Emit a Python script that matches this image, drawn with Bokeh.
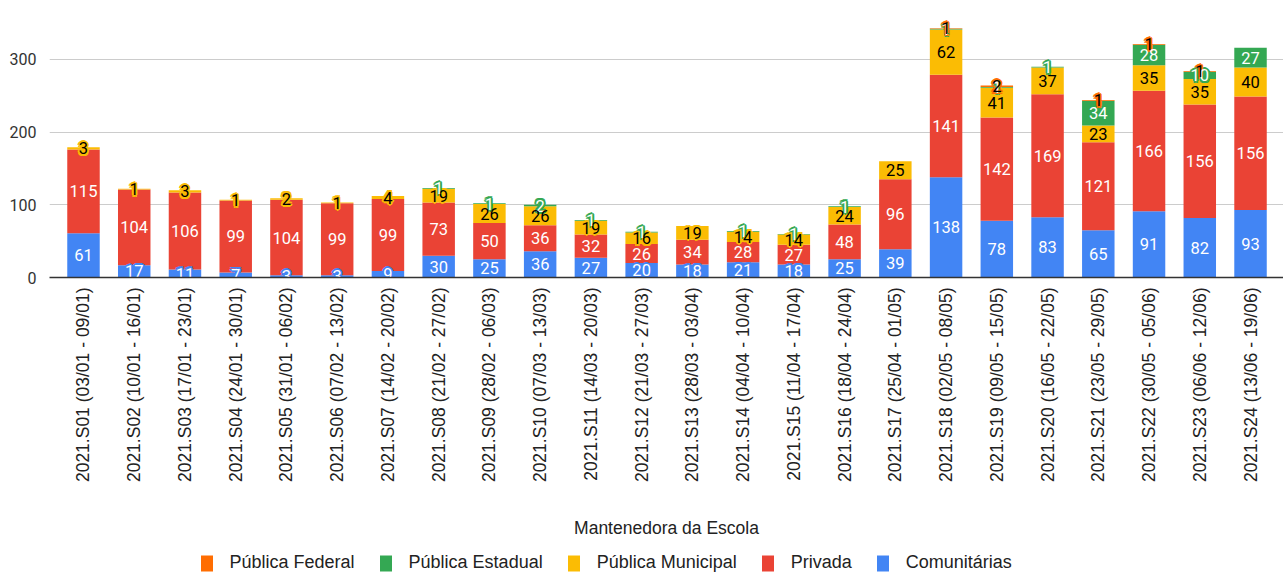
import math
from bokeh.plotting import figure
from bokeh.layouts import column
from bokeh.models import ColumnDataSource, FixedTicker, Range1d, Legend, LegendItem
from bokeh.core.properties import value
from bokeh.embed import file_html
from bokeh.resources import INLINE

weeks = [
    "2021.S01 (03/01 - 09/01)", "2021.S02 (10/01 - 16/01)", "2021.S03 (17/01 - 23/01)",
    "2021.S04 (24/01 - 30/01)", "2021.S05 (31/01 - 06/02)", "2021.S06 (07/02 - 13/02)",
    "2021.S07 (14/02 - 20/02)", "2021.S08 (21/02 - 27/02)", "2021.S09 (28/02 - 06/03)",
    "2021.S10 (07/03 - 13/03)", "2021.S11 (14/03 - 20/03)", "2021.S12 (21/03 - 27/03)",
    "2021.S13 (28/03 - 03/04)", "2021.S14 (04/04 - 10/04)", "2021.S15 (11/04 - 17/04)",
    "2021.S16 (18/04 - 24/04)", "2021.S17 (25/04 - 01/05)", "2021.S18 (02/05 - 08/05)",
    "2021.S19 (09/05 - 15/05)", "2021.S20 (16/05 - 22/05)", "2021.S21 (23/05 - 29/05)",
    "2021.S22 (30/05 - 05/06)", "2021.S23 (06/06 - 12/06)", "2021.S24 (13/06 - 19/06)",
]

comunitarias = [61, 17, 11, 7, 3, 3, 9, 30, 25, 36, 27, 20, 18, 21, 18, 25, 39, 138, 78, 83, 65, 91, 82, 93]
privada = [115, 104, 106, 99, 104, 99, 99, 73, 50, 36, 32, 26, 34, 28, 27, 48, 96, 141, 142, 169, 121, 166, 156, 156]
municipal = [3, 1, 3, 1, 2, 1, 4, 19, 26, 26, 19, 16, 19, 14, 14, 24, 25, 62, 41, 37, 23, 35, 35, 40]
estadual = [0, 0, 0, 0, 0, 0, 0, 1, 1, 2, 1, 1, 0, 1, 1, 1, 0, 1, 1, 1, 34, 28, 10, 27]
federal = [0, 0, 0, 0, 0, 0, 0, 0, 0, 0, 0, 0, 0, 0, 0, 0, 0, 1, 2, 0, 1, 1, 1, 0]

series_names = ["Comunitárias", "Privada", "Pública Municipal", "Pública Estadual", "Pública Federal"]
series_values = [comunitarias, privada, municipal, estadual, federal]
keys = ["com", "priv", "mun", "est", "fed"]
colors = ["#4285F4", "#EA4335", "#FBBC04", "#34A853", "#FF6D01"]
text_colors = ["#ffffff", "#ffffff", "#000000", "#ffffff", "#000000"]

xs = list(range(len(weeks)))
data = {"x": xs}
for k, v in zip(keys, series_values):
    data[k] = v
src = ColumnDataSource(data)

p = figure(
    frame_width=1234, frame_height=269,
    x_range=Range1d(-0.67, 23.65), y_range=Range1d(0, 370),
    output_backend="svg", toolbar_location=None,
    min_border_left=49, min_border_right=0, min_border_top=8, min_border_bottom=268,
    background_fill_color="white", border_fill_color="white",
)
p.outline_line_color = None

renderers = p.vbar_stack(keys, x="x", width=0.64, color=colors, source=src, line_color=None)

BAR_FONT = "Roboto"
normal = {"x": [], "y": [], "t": [], "c": []}
halo = {"x": [], "y": [], "t": [], "c": [], "h": []}
cum = [0] * len(weeks)
for si, vals in enumerate(series_values):
    for i, v in enumerate(vals):
        if v > 0:
            mid = cum[i] + v / 2.0
            if v < 22:
                halo["x"].append(i); halo["y"].append(mid); halo["t"].append(str(v))
                halo["c"].append(text_colors[si]); halo["h"].append(colors[si])
            else:
                normal["x"].append(i); normal["y"].append(mid); normal["t"].append(str(v))
                normal["c"].append(text_colors[si])
        cum[i] += v

hsrc = ColumnDataSource(halo)
for dx, dy in [(-2, 0), (2, 0), (0, -2), (0, 2), (-1.5, -1.5), (1.5, 1.5), (-1.5, 1.5), (1.5, -1.5)]:
    p.text(x="x", y="y", text="t", source=hsrc, x_offset=dx, y_offset=dy,
           text_color="h", text_font=value(BAR_FONT), text_font_size="16.5px",
           text_align="center", text_baseline="middle")
p.text(x="x", y="y", text="t", source=hsrc, text_color="c", text_font=value(BAR_FONT),
       text_font_size="16.5px", text_align="center", text_baseline="middle")
nsrc = ColumnDataSource(normal)
p.text(x="x", y="y", text="t", source=nsrc, text_color="c", text_font=value(BAR_FONT),
       text_font_size="16.5px", text_align="center", text_baseline="middle")

p.xgrid.grid_line_color = None
p.ygrid.ticker = FixedTicker(ticks=[100, 200, 300])
p.ygrid.grid_line_color = "#cccccc"
p.ygrid.grid_line_width = 1

p.yaxis.ticker = FixedTicker(ticks=[0, 100, 200, 300])
p.yaxis.axis_line_color = None
p.yaxis.major_tick_line_color = None
p.yaxis.minor_tick_line_color = None
p.yaxis.major_label_standoff = 7
p.yaxis.major_label_text_font = "Roboto"
p.yaxis.major_label_text_font_size = "16px"
p.yaxis.major_label_text_color = "#333333"

p.xaxis.ticker = FixedTicker(ticks=xs)
p.xaxis.major_label_overrides = {i: w for i, w in enumerate(weeks)}
p.xaxis.major_label_orientation = math.pi / 2
p.xaxis.major_label_standoff = 4
p.xaxis.major_tick_line_color = None
p.xaxis.minor_tick_line_color = None
p.xaxis.axis_line_color = "#333333"
p.xaxis.axis_line_width = 1.5
p.xaxis.major_label_text_font = "Liberation Sans"
p.xaxis.major_label_text_font_size = "17.5px"
p.xaxis.major_label_text_color = "#222222"
p.xaxis.axis_label = "Mantenedora da Escola"
p.xaxis.axis_label_text_font = "Liberation Sans"
p.xaxis.axis_label_text_font_size = "17.5px"
p.xaxis.axis_label_text_font_style = "normal"
p.xaxis.axis_label_text_color = "#222222"
p.xaxis.axis_label_standoff = 33

# legend strip below the chart (zero-height swatch bars feed the legend glyphs)
lf = figure(
    frame_width=1283, frame_height=30, x_range=Range1d(-100, -99), y_range=Range1d(0, 1),
    x_axis_type=None, y_axis_type=None, output_backend="svg", toolbar_location=None,
    min_border_left=0, min_border_right=0, min_border_top=0, min_border_bottom=0,
)
lf.outline_line_color = None
legend_renderers = [lf.vbar(x="x", top=0, width=0.5, color=c, line_color=None, source=src)
                    for c in colors]
items = [LegendItem(label=series_names[i], renderers=[legend_renderers[i]]) for i in [4, 3, 2, 1, 0]]
legend = Legend(items=items, orientation="horizontal", location=(198.5, 2),
                label_text_font="Liberation Sans", label_text_font_size="18px",
                label_text_color="#222222", glyph_width=15, glyph_height=20,
                label_standoff=16, spacing=23, padding=0, margin=0,
                border_line_color=None, background_fill_alpha=0)
lf.add_layout(legend, "center")

layout = column(p, lf, spacing=0)
open("out.html", "w").write(file_html(layout, INLINE))
